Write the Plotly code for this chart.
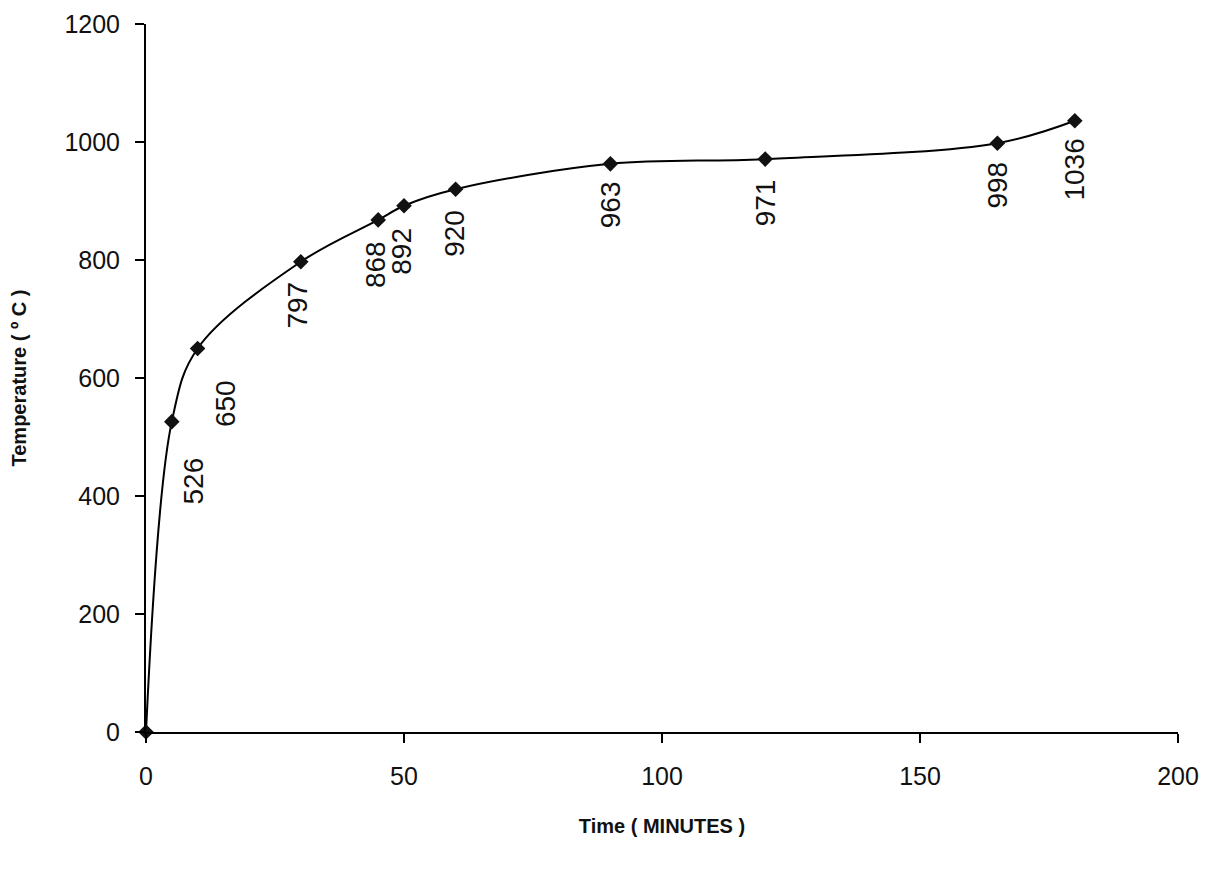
import plotly.graph_objects as go

time_min = [0, 5, 10, 30, 45, 50, 60, 90, 120, 165, 180]
temperature = [0, 526, 650, 797, 868, 892, 920, 963, 971, 998, 1036]
labels = ["", "526", "650", "797", "868", "892", "920", "963", "971", "998", "1036"]
# label offsets in pixels (x right, y down to label centre)
label_dx = [0, 22, 28, -3, -2, -2, -1, 0, 0, 0, 0]
label_dy = [0, 59, 55, 43, 45, 46, 44, 41, 44, 42, 49]

fig = go.Figure()
fig.add_trace(go.Scatter(
    x=time_min, y=temperature, mode="lines+markers",
    line=dict(color="black", width=2, shape="spline", smoothing=1.0),
    marker=dict(symbol="diamond", size=12, color="#111111"),
    showlegend=False, hoverinfo="x+y", cliponaxis=False,
))

for xv, yv, t, dx, dy in zip(time_min, temperature, labels, label_dx, label_dy):
    if not t:
        continue
    fig.add_annotation(
        x=xv, y=yv, xref="x", yref="y", text=t, showarrow=False,
        textangle=-90, xshift=dx, yshift=-dy,
        xanchor="center", yanchor="middle",
        font=dict(family="Liberation Sans, Arial, sans-serif", size=28, color="#111111"),
    )

fig.update_layout(
    width=1213, height=869,
    paper_bgcolor="white", plot_bgcolor="white",
    margin=dict(l=138, r=43, t=16, b=145),
    font=dict(family="Liberation Sans, Arial, sans-serif", color="#111111"),
)
fig.update_xaxes(
    range=[0, 200], tickvals=[0, 50, 100, 150, 200], automargin=False,
    showgrid=False, zeroline=False, showline=True, linecolor="black", linewidth=2,
    ticks="outside", ticklen=9, tickwidth=2, tickcolor="black",
    tickfont=dict(size=25), ticklabelstandoff=12,
    title=dict(text="<b>Time ( MINUTES )</b>", font=dict(size=20), standoff=30),
)
fig.update_yaxes(
    range=[0, 1200], tickvals=[0, 200, 400, 600, 800, 1000, 1200], automargin=False,
    showgrid=False, zeroline=False, showline=True, linecolor="black", linewidth=2,
    ticks="outside", ticklen=9, tickwidth=2, tickcolor="black",
    tickfont=dict(size=25), ticklabelstandoff=10,
    title=dict(text="<b>Temperature ( º C )</b>", font=dict(size=20), standoff=36),
)

fig.write_html("out.html")
